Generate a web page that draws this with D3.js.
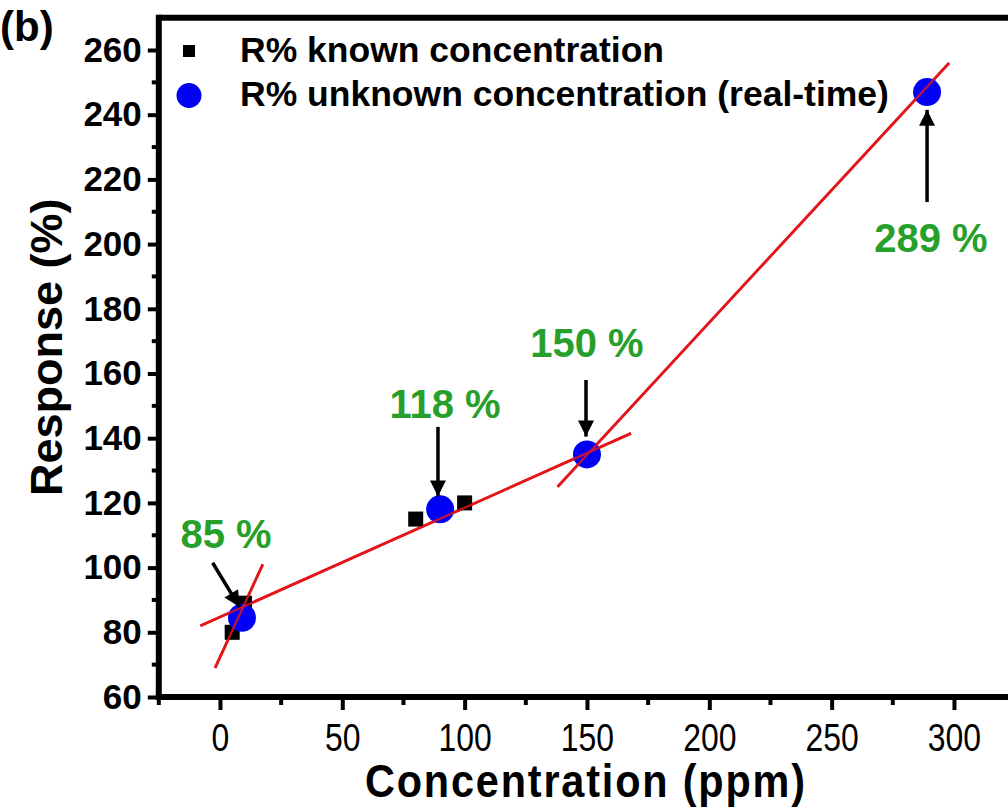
<!DOCTYPE html>
<html>
<head>
<meta charset="utf-8">
<script src="https://cdn.jsdelivr.net/npm/d3@7"></script>
<style>
  body { margin: 0; background: #fff; }
  svg { display: block; }
</style>
</head>
<body>
<script>
// known concentration points (black squares)
const knownX = [5, 10, 80, 100];
const knownY = [80, 89, 115, 120];

// unknown concentration, real-time (blue circles)
const unknownX = [9, 90, 150, 289];
const unknownY = [84.5, 118, 135, 247];

// linear fit segments, endpoints in data units
const fitLow = [[-8, 82], [168, 141.5]];
const fitStart = [[-2, 69], [17.5, 101]];
const fitHigh = [[138, 125], [298, 256]];

// annotations: label, label position, arrow tail -> tip
const annoText = ["85 %", "118 %", "150 %", "289 %"];
const annoPos = [[2.5, 106], [92, 146.3], [150, 165.2], [290.6, 197.6]];
const arrowFrom = [[-3, 101.5], [89.1, 143.5], [149.6, 158], [289, 213]];
const arrowTo = [[8, 87.8], [89.1, 122], [149.6, 140.5], [289, 241.5]];

const xTicks = [0, 50, 100, 150, 200, 250, 300];
const yTicks = [60, 80, 100, 120, 140, 160, 180, 200, 220, 240, 260];

const W = 1008, H = 812;
const svg = d3.select("body").append("svg").attr("width", W).attr("height", H);

const x = d3.scaleLinear().domain([-25, 330]).range([158.8, 158.8 + 355 * 2.4467]);
const y = d3.scaleLinear().domain([60, 270]).range([697, 697 - 210 * 3.235]);

const sans = "'Liberation Sans', Arial, sans-serif";
const squeeze = 0.84; // stands in for Arial Narrow

svg.append("defs").append("marker")
  .attr("id", "head")
  .attr("viewBox", "0 0 10 10")
  .attr("refX", 10).attr("refY", 5)
  .attr("markerUnits", "userSpaceOnUse")
  .attr("markerWidth", 24).attr("markerHeight", 16)
  .attr("orient", "auto")
  .append("path").attr("d", "M0,0 L10,5 L0,10 Z").attr("fill", "#000");

// frame (right side falls outside the window)
svg.append("line")
  .attr("x1", x(-25)).attr("x2", x(330))
  .attr("y1", y(270)).attr("y2", y(270))
  .attr("stroke", "#000").attr("stroke-width", 6);

// x axis
const xAxis = svg.append("g").attr("transform", `translate(0,${y(60)})`)
  .call(d3.axisBottom(x).tickValues(xTicks).tickSize(13).tickPadding(14));
xAxis.append("g").selectAll("line").data(d3.range(-25, 330, 50)).join("line")
  .attr("x1", d => x(d)).attr("x2", d => x(d)).attr("y1", 0).attr("y2", 8)
  .attr("stroke", "#000").attr("stroke-width", 4);
xAxis.select(".domain").attr("stroke-width", 6).attr("d", `M${x(-25) - 3},0H${x(330)}`);
xAxis.selectAll(".tick line").attr("stroke-width", 4);
xAxis.selectAll(".tick text")
  .attr("font-family", sans).attr("font-size", 38).attr("fill", "#000")
  .attr("transform", `scale(${squeeze},1)`);

// y axis
const yAxis = svg.append("g").attr("transform", `translate(${x(-25)},0)`)
  .call(d3.axisLeft(y).tickValues(yTicks).tickSize(11).tickPadding(6));
yAxis.append("g").selectAll("line").data(d3.range(70, 270, 20)).join("line")
  .attr("x1", 0).attr("x2", -7).attr("y1", d => y(d)).attr("y2", d => y(d))
  .attr("stroke", "#000").attr("stroke-width", 4);
yAxis.select(".domain").attr("stroke-width", 6).attr("d", `M0,${y(60) + 3}V${y(270) - 3}`);
yAxis.selectAll(".tick line").attr("stroke-width", 4);
yAxis.selectAll(".tick text")
  .attr("font-family", sans).attr("font-weight", "bold").attr("font-size", 35).attr("fill", "#000");

// axis titles
const titleSqueeze = 0.9;
svg.append("g")
  .attr("transform", `translate(${(x(0) + x(300)) / 2 - 2},797) scale(${titleSqueeze},1)`)
  .append("text")
  .attr("text-anchor", "middle")
  .attr("font-family", sans).attr("font-weight", "bold").attr("font-size", 46)
  .attr("textLength", 440 / titleSqueeze).attr("lengthAdjust", "spacing")
  .text("Concentration (ppm)");

svg.append("text")
  .attr("transform", `translate(62,${(y(60) + y(270)) / 2 - 10}) rotate(-90)`)
  .attr("text-anchor", "middle")
  .attr("font-family", sans).attr("font-weight", "bold").attr("font-size", 45)
  .text("Response (%)");

svg.append("text")
  .attr("x", 0).attr("y", 41)
  .attr("font-family", sans).attr("font-weight", "bold").attr("font-size", 42)
  .text("(b)");

// fit lines
const line = d3.line().x(d => x(d[0])).y(d => y(d[1]));
[fitLow, fitStart, fitHigh].forEach(seg => {
  svg.append("path").datum(seg)
    .attr("d", line).attr("fill", "none")
    .attr("stroke", "#e3171b").attr("stroke-width", 2.8);
});

// known points
svg.append("g").selectAll("rect").data(knownX).join("rect")
  .attr("x", (d, i) => x(d) - 7.5).attr("y", (d, i) => y(knownY[i]) - 7.5)
  .attr("width", 15).attr("height", 15).attr("fill", "#000");

// unknown points
svg.append("g").selectAll("circle").data(unknownX).join("circle")
  .attr("cx", d => x(d)).attr("cy", (d, i) => y(unknownY[i]))
  .attr("r", 14).attr("fill", "#0000f5");

// fit lines show through the circles in the reference
[fitLow, fitStart, fitHigh].forEach(seg => {
  svg.append("path").datum(seg)
    .attr("d", line).attr("fill", "none")
    .attr("stroke", "#e3171b").attr("stroke-width", 2.4).attr("stroke-opacity", 0.8);
});

// arrows
svg.append("g").selectAll("line").data(arrowFrom).join("line")
  .attr("x1", d => x(d[0])).attr("y1", d => y(d[1]))
  .attr("x2", (d, i) => x(arrowTo[i][0])).attr("y2", (d, i) => y(arrowTo[i][1]))
  .attr("stroke", "#000").attr("stroke-width", 3.5)
  .attr("marker-end", "url(#head)");

// annotation labels
svg.append("g").selectAll("text").data(annoText).join("text")
  .attr("x", (d, i) => x(annoPos[i][0])).attr("y", (d, i) => y(annoPos[i][1]))
  .attr("text-anchor", "middle")
  .attr("font-family", sans).attr("font-weight", "bold").attr("font-size", 40)
  .attr("fill", "#26a02a")
  .text(d => d);

// legend
const legend = svg.append("g");
legend.append("rect").attr("x", 183).attr("y", 45).attr("width", 12).attr("height", 12).attr("fill", "#000");
legend.append("circle").attr("cx", 189).attr("cy", 95.5).attr("r", 12.5).attr("fill", "#0000f5");
legend.append("text").attr("x", 240).attr("y", 62)
  .attr("font-family", sans).attr("font-weight", "bold").attr("font-size", 35.5)
  .text("R% known concentration");
legend.append("text").attr("x", 240).attr("y", 106)
  .attr("font-family", sans).attr("font-weight", "bold").attr("font-size", 35.5)
  .text("R% unknown concentration (real-time)");
</script>
</body>
</html>
